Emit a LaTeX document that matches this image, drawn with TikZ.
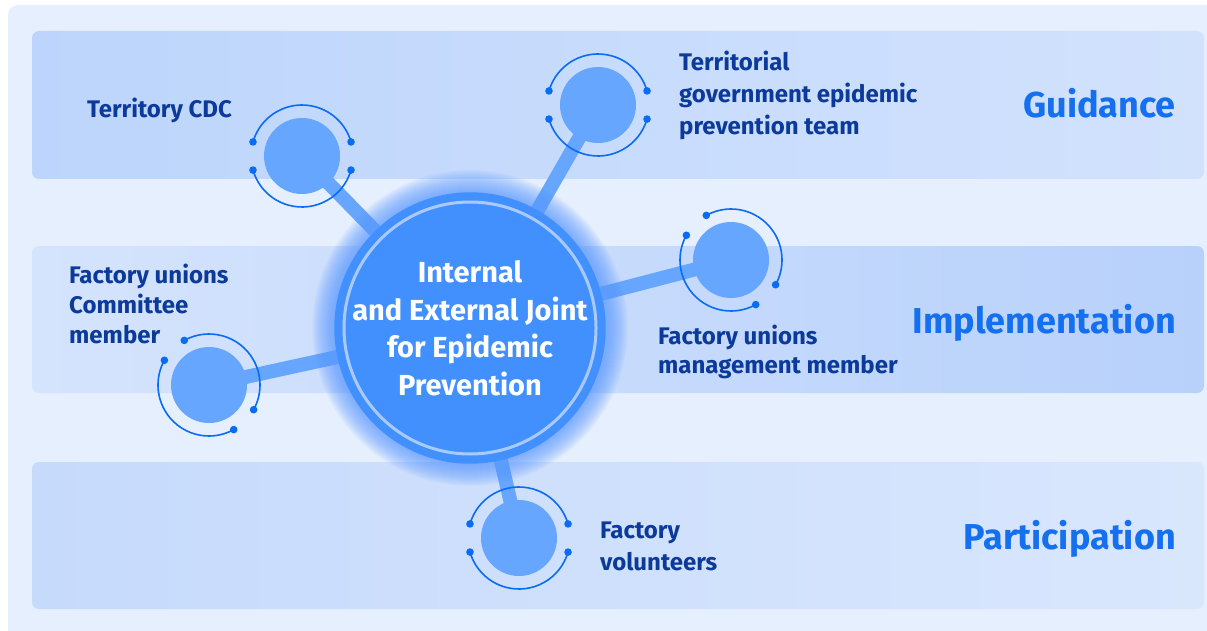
\documentclass[tikz,border=0pt]{standalone}
\usepackage{fontspec}
\setmainfont{Fira Sans}

\definecolor{panel}{HTML}{E6EFFE}
\definecolor{guideL}{HTML}{BDD5FC}
\definecolor{guideR}{HTML}{D2E2FD}
\definecolor{implL}{HTML}{D5E4FD}
\definecolor{implR}{HTML}{B8D1FB}
\definecolor{partL}{HTML}{C6DAFC}
\definecolor{partR}{HTML}{D9E7FD}
\definecolor{satfill}{HTML}{66A6FF}
\definecolor{orbitcol}{HTML}{0A6CF4}
\definecolor{hubfill}{HTML}{4290FD}
\definecolor{hublight}{HTML}{A8CAFE}
\definecolor{glowcol}{HTML}{5C9CFD}
\definecolor{labelcol}{HTML}{0B3A9A}
\definecolor{headcol}{HTML}{1570F0}

\pgfdeclarelayer{back}
\pgfsetlayers{back,main}

\tikzset{every picture/.style={line width=0.75pt}}
\tikzset{
  band/.style={rounded corners=7pt},
  bar/.style={draw=satfill, line width=14pt},
  sat/.style={circle, fill=satfill, minimum size=76pt, inner sep=0pt},
  hub/.style={circle, fill=hubfill, minimum size=270pt, inner sep=0pt, text=white, align=center,
    font=\bfseries\fontsize{29}{37.5}\selectfont},
  orbit/.style={draw=orbitcol, line width=1.6pt},
  orbitdot/.style={fill=orbitcol},
  lbl/.style={text=labelcol, align=left, inner sep=0pt, font=\bfseries\fontsize{24}{32}\selectfont},
  head/.style={text=headcol, inner sep=0pt, font=\bfseries\fontsize{36}{40}\selectfont}
}

% arcs round a small circle: #1 node, #2 turn
\newcommand{\orbit}[2]{%
  \draw[orbit] (#1.center) ++(196+#2:51) arc[start angle=196+#2, end angle=344+#2, radius=51];
  \draw[orbit] (#1.center) ++(16+#2:51) arc[start angle=16+#2, end angle=164+#2, radius=51];
  \foreach \a in {16,164,196,344} \fill[orbitdot] (#1.center) ++(\a+#2:51) circle[radius=3.8];
}

\begin{document}
\begin{tikzpicture}[x=1pt,y=1pt,yscale=-1,xscale=1]
\useasboundingbox (0,0) rectangle (1207,631);
\clip (0,0) rectangle (1207,631);

\begin{pgfonlayer}{back}
%Shape: Rectangle [outer panel]
\fill[panel, rounded corners=10pt] (8,5) rectangle (1230,650);
%Shape: Rectangle [bands]
\shade[band, left color=guideL, right color=guideR] (32,31) rectangle (1204,179);
\shade[band, left color=implL, right color=implR] (32,246) rectangle (1204,393);
\shade[band, left color=partL, right color=partR] (32,462) rectangle (1204,609);
\end{pgfonlayer}

%Shape: Glow
\foreach \r in {136,...,158} \fill[glowcol, opacity=0.05] (470,328) circle[radius=\r];

%Shape: Circle [hub]
\node[hub] (hub) at (470,328) {Internal\\and External Joint\\for Epidemic\\Prevention};
\draw[hublight, line width=3pt] (hub.center) circle[radius=126];

%Shape: Circle [satellites]
\node[sat] (cdc) at (302,156) {};
\node[sat] (gov) at (598,105) {};
\node[sat] (mgmt) at (731,260) {};
\node[sat] (cmte) at (209,385) {};
\node[sat] (vol) at (519,538) {};

\begin{pgfonlayer}{back}
\foreach \s in {cdc,gov,mgmt,cmte,vol} \draw[bar] (hub.center) -- (\s.center);
\end{pgfonlayer}

%Shape: Arcs
\orbit{cdc}{0}
\orbit{gov}{0}
\orbit{mgmt}{45}
\orbit{cmte}{45}
\orbit{vol}{0}

% Text Node
\node[lbl, anchor=west] (cdc label) at (87,110) {Territory CDC};
% Text Node
\node[lbl, anchor=west] (gov label) at (679,95) {Territorial\\government epidemic\\prevention team};
% Text Node
\node[lbl, anchor=west, font=\bfseries\fontsize{24}{29}\selectfont] (mgmt label) at (658,352) {Factory unions\\management member};
% Text Node
\node[lbl, anchor=west, font=\bfseries\fontsize{24}{30}\selectfont] (cmte label) at (69,304) {Factory unions\\Committee\\member};
% Text Node
\node[lbl, anchor=west] (vol label) at (600,546) {Factory\\volunteers};

% Text Node
\node[head, anchor=base east] (guide head) at (1176,117.5) {Guidance};
% Text Node
\node[head, anchor=base east] (impl head) at (1176,333.5) {Implementation};
% Text Node
\node[head, anchor=base east] (part head) at (1176,549.5) {Participation};

\end{tikzpicture}
\end{document}
